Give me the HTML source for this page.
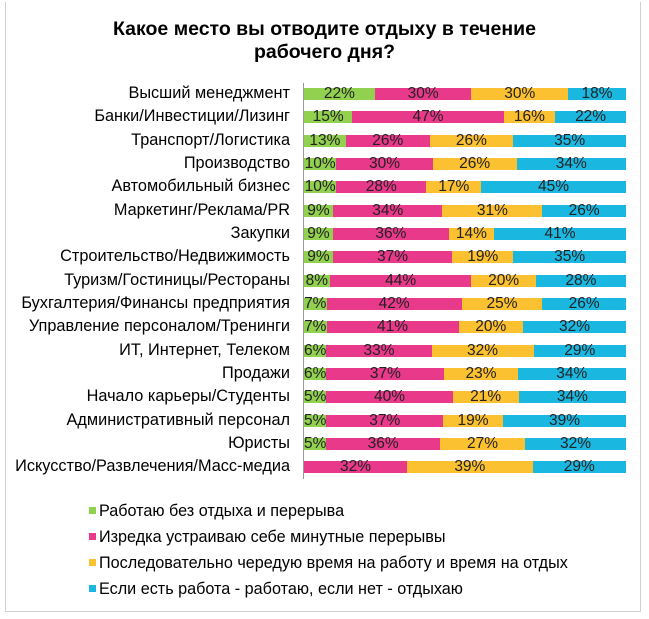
<!DOCTYPE html>
<html><head><meta charset="utf-8"><style>
body{margin:0;width:649px;height:619px;background:#fff;font-family:"Liberation Sans",Arial,sans-serif;position:relative;overflow:hidden}
.frame{position:absolute;left:5px;top:2px;width:634px;height:609px;border:1px solid #d0d0d0;border-top:none}
.title{position:absolute;left:0;width:649px;top:18px;text-align:center;font-weight:bold;font-size:19.5px;line-height:23px;color:#000}
.axis{position:absolute;left:303px;top:83px;width:1px;height:396px;background:#999}
.row{position:absolute;left:0;width:649px;height:12px}
.lab{position:absolute;right:359px;top:-4px;font-size:16.3px;white-space:nowrap;color:#000}
.bar{position:absolute;left:304px;width:322px;height:12px;display:flex}
.bar div{height:12px;font-size:15.5px;line-height:12px;text-align:center;color:#222;white-space:nowrap;overflow:visible}
.g{background:#92d050}.p{background:#e8398a}.y{background:#fcc130}.b{background:#1ab7e0}
.leg{position:absolute;left:89px;font-size:16.2px;color:#000}
.leg span{display:inline-block;width:7px;height:7px;margin-right:3px;vertical-align:2px}
</style></head><body>
<div class="frame"></div>
<div class="title">Какое место вы отводите отдыху в течение<br>рабочего дня?</div>
<div class="axis"></div>

<div class="row" style="top:88px"><div class="lab">Высший менеджмент</div><div class="bar"><div class="g" style="flex:22">22%</div><div class="p" style="flex:30">30%</div><div class="y" style="flex:30">30%</div><div class="b" style="flex:18">18%</div></div></div>
<div class="row" style="top:111px"><div class="lab">Банки/Инвестиции/Лизинг</div><div class="bar"><div class="g" style="flex:15">15%</div><div class="p" style="flex:47">47%</div><div class="y" style="flex:16">16%</div><div class="b" style="flex:22">22%</div></div></div>
<div class="row" style="top:135px"><div class="lab">Транспорт/Логистика</div><div class="bar"><div class="g" style="flex:13">13%</div><div class="p" style="flex:26">26%</div><div class="y" style="flex:26">26%</div><div class="b" style="flex:35">35%</div></div></div>
<div class="row" style="top:158px"><div class="lab">Производство</div><div class="bar"><div class="g" style="flex:10">10%</div><div class="p" style="flex:30">30%</div><div class="y" style="flex:26">26%</div><div class="b" style="flex:34">34%</div></div></div>
<div class="row" style="top:181px"><div class="lab">Автомобильный бизнес</div><div class="bar"><div class="g" style="flex:10">10%</div><div class="p" style="flex:28">28%</div><div class="y" style="flex:17">17%</div><div class="b" style="flex:45">45%</div></div></div>
<div class="row" style="top:205px"><div class="lab">Маркетинг/Реклама/PR</div><div class="bar"><div class="g" style="flex:9">9%</div><div class="p" style="flex:34">34%</div><div class="y" style="flex:31">31%</div><div class="b" style="flex:26">26%</div></div></div>
<div class="row" style="top:228px"><div class="lab">Закупки</div><div class="bar"><div class="g" style="flex:9">9%</div><div class="p" style="flex:36">36%</div><div class="y" style="flex:14">14%</div><div class="b" style="flex:41">41%</div></div></div>
<div class="row" style="top:251px"><div class="lab">Строительство/Недвижимость</div><div class="bar"><div class="g" style="flex:9">9%</div><div class="p" style="flex:37">37%</div><div class="y" style="flex:19">19%</div><div class="b" style="flex:35">35%</div></div></div>
<div class="row" style="top:275px"><div class="lab">Туризм/Гостиницы/Рестораны</div><div class="bar"><div class="g" style="flex:8">8%</div><div class="p" style="flex:44">44%</div><div class="y" style="flex:20">20%</div><div class="b" style="flex:28">28%</div></div></div>
<div class="row" style="top:298px"><div class="lab">Бухгалтерия/Финансы предприятия</div><div class="bar"><div class="g" style="flex:7">7%</div><div class="p" style="flex:42">42%</div><div class="y" style="flex:25">25%</div><div class="b" style="flex:26">26%</div></div></div>
<div class="row" style="top:321px"><div class="lab">Управление персоналом/Тренинги</div><div class="bar"><div class="g" style="flex:7">7%</div><div class="p" style="flex:41">41%</div><div class="y" style="flex:20">20%</div><div class="b" style="flex:32">32%</div></div></div>
<div class="row" style="top:345px"><div class="lab">ИТ, Интернет, Телеком</div><div class="bar"><div class="g" style="flex:6">6%</div><div class="p" style="flex:33">33%</div><div class="y" style="flex:32">32%</div><div class="b" style="flex:29">29%</div></div></div>
<div class="row" style="top:368px"><div class="lab">Продажи</div><div class="bar"><div class="g" style="flex:6">6%</div><div class="p" style="flex:37">37%</div><div class="y" style="flex:23">23%</div><div class="b" style="flex:34">34%</div></div></div>
<div class="row" style="top:391px"><div class="lab">Начало карьеры/Студенты</div><div class="bar"><div class="g" style="flex:5">5%</div><div class="p" style="flex:40">40%</div><div class="y" style="flex:21">21%</div><div class="b" style="flex:34">34%</div></div></div>
<div class="row" style="top:415px"><div class="lab">Административный персонал</div><div class="bar"><div class="g" style="flex:5">5%</div><div class="p" style="flex:37">37%</div><div class="y" style="flex:19">19%</div><div class="b" style="flex:39">39%</div></div></div>
<div class="row" style="top:438px"><div class="lab">Юристы</div><div class="bar"><div class="g" style="flex:5">5%</div><div class="p" style="flex:36">36%</div><div class="y" style="flex:27">27%</div><div class="b" style="flex:32">32%</div></div></div>
<div class="row" style="top:461px"><div class="lab">Искусство/Развлечения/Масс-медиа</div><div class="bar"><div class="p" style="flex:32">32%</div><div class="y" style="flex:39">39%</div><div class="b" style="flex:29">29%</div></div></div>

<div class="leg" style="top:502px"><span class="g"></span>Работаю без отдыха и перерыва</div>
<div class="leg" style="top:528px"><span class="p"></span>Изредка устраиваю себе минутные перерывы</div>
<div class="leg" style="top:554px"><span class="y"></span>Последовательно чередую время на работу и время на отдых</div>
<div class="leg" style="top:580px"><span class="b"></span>Если есть работа - работаю, если нет - отдыхаю</div>
</body></html>
